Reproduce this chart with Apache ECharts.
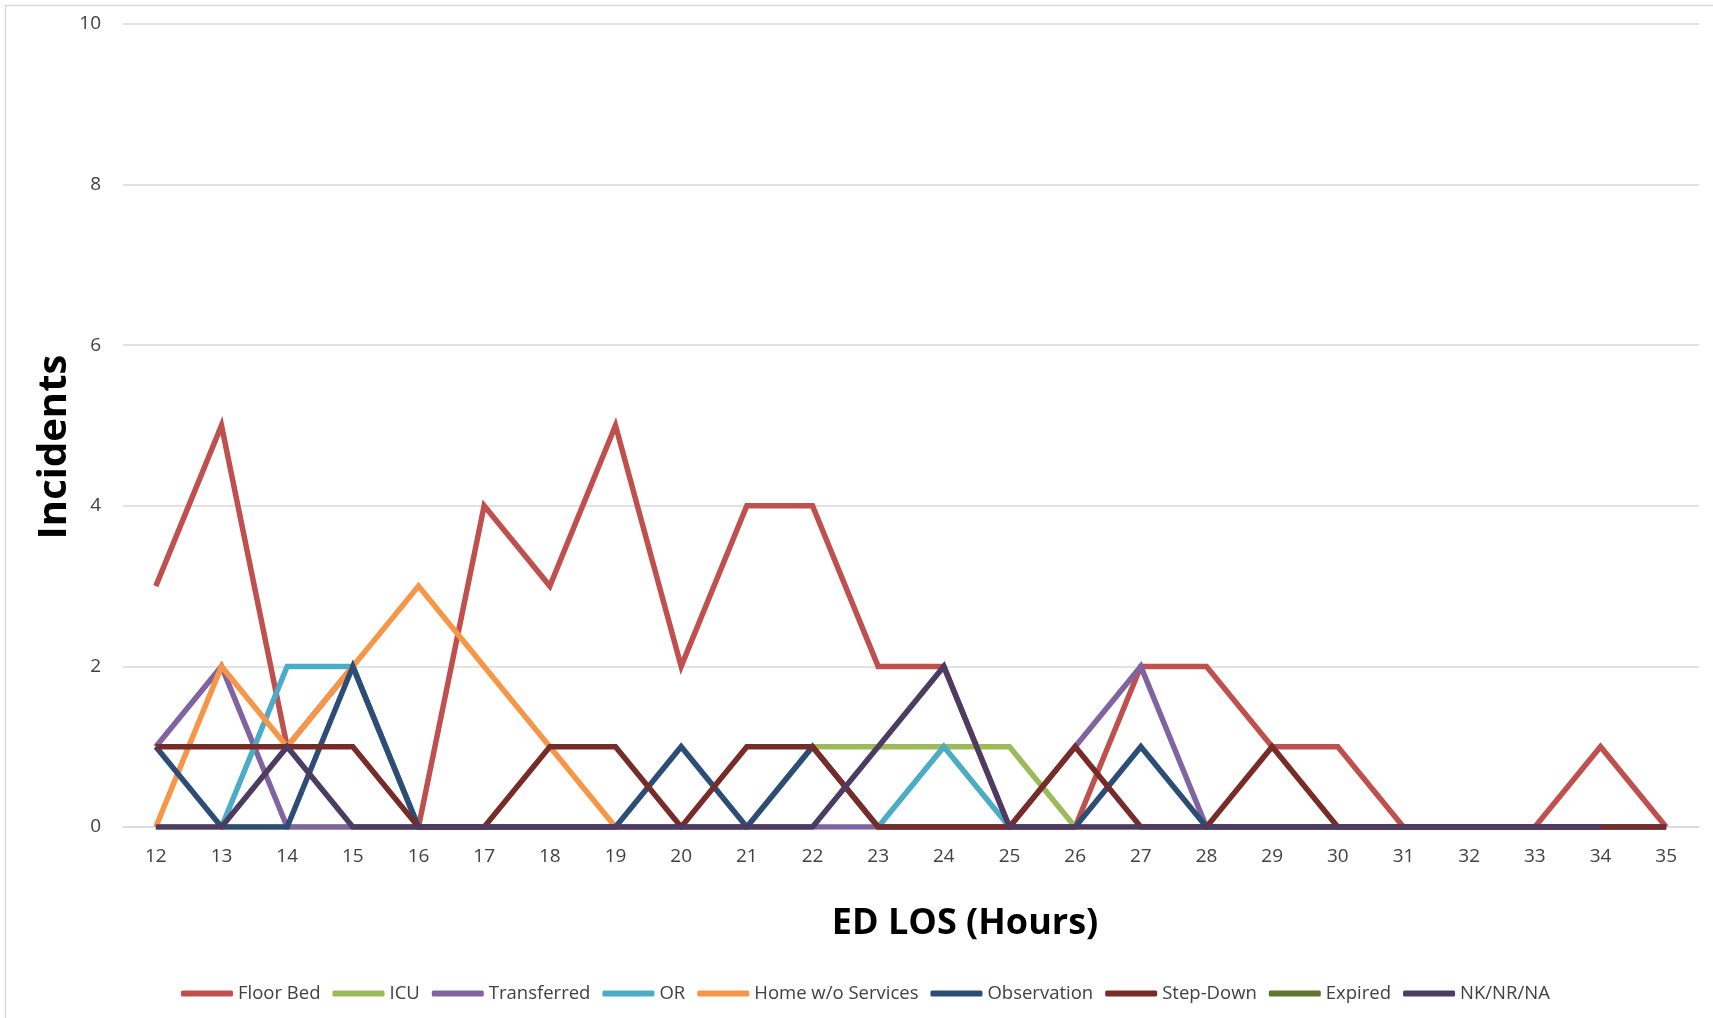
<!DOCTYPE html>
<html>
<head>
<meta charset="utf-8">
<title>Incidents by ED LOS</title>
<script src="https://cdn.jsdelivr.net/npm/echarts@6/dist/echarts.min.js"></script>
<style>
  html, body { margin: 0; padding: 0; background: #fff; }
  #chart { width: 1713px; height: 1018px; }
</style>
</head>
<body>
<div id="chart"></div>
<script>
// ED length of stay, hours
var hours = ['12','13','14','15','16','17','18','19','20','21','22','23','24','25','26','27','28','29','30','31','32','33','34','35'];

// blank cells (null) leave a gap, like the source sheet
var floorBed    = [3, 5, 1, 2, 0, 4, 3, 5, 2, 4, 4, 2, 2, 0, 0, 2, 2, 1, 1, 0, 0, 0, 1, 0];
var icu         = [0, 0, 0, 0, 0, 0, 0, 0, 0, 0, 1, 1, 1, 1, 0, 0, 0, 0, 0, 0, 0, 0, 0, 0];
var transferred = [1, 2, 0, 0, 0, 0, 0, 0, 0, 0, 0, 0, 0, 0, 1, 2, 0, 0, 0, 0, 0, 0, 0, 0];
var orCases     = [null, 0, 2, 2, 0, null, null, null, null, null, null, 0, 1, 0, null, null, null, null, null, null, null, null, null, null];
var homeNoSvc   = [0, 2, 1, 2, 3, 2, 1, 0, null, null, null, null, null, null, null, null, null, null, null, null, null, null, null, null];
var observation = [1, 0, 0, 2, 0, 0, 0, 0, 1, 0, 1, 0, 0, 0, 0, 1, 0, 0, 0, 0, 0, 0, 0, 0];
var stepDown    = [1, 1, 1, 1, 0, 0, 1, 1, 0, 1, 1, 0, 0, 0, 1, 0, 0, 1, 0, 0, 0, 0, 0, 0];
var expired     = []; // no incidents recorded, only appears in the legend
var nkNrNa      = [0, 0, 1, 0, 0, 0, 0, 0, 0, 0, 0, 1, 2, 0, 0, 0, 0, 0, 0, 0, 0, 0, 0, null];

var yTicks = { min: 0, max: 10, interval: 2 };

var seriesDefs = [
  { name: 'Floor Bed', data: floorBed, color: '#C0504D' },
  { name: 'ICU', data: icu, color: '#9BBB59' },
  { name: 'Transferred', data: transferred, color: '#8064A2' },
  { name: 'OR', data: orCases, color: '#4BACC6' },
  { name: 'Home w/o Services', data: homeNoSvc, color: '#F79646' },
  { name: 'Observation', data: observation, color: '#2C4D75' },
  { name: 'Step-Down', data: stepDown, color: '#772C2A' },
  { name: 'Expired', data: expired, color: '#5F7530' },
  { name: 'NK/NR/NA', data: nkNrNa, color: '#4D3B62' }
];

var chart = echarts.init(document.getElementById('chart'));

chart.setOption({
  animation: false,
  textStyle: { fontFamily: 'Open Sans' },
  color: seriesDefs.map(function (s) { return s.color; }),
  graphic: [
    {
      type: 'rect',
      shape: { x: 5.5, y: 5.5, width: 1720, height: 1030 },
      style: { fill: 'none', stroke: '#d9d9d9', lineWidth: 1.5 },
      silent: true
    },
    {
      // y axis title
      type: 'text',
      x: 55,
      y: 447,
      rotation: Math.PI / 2,
      style: {
        text: 'Incidents',
        font: 'bold 40px "Open Sans"',
        fill: '#000',
        align: 'center',
        verticalAlign: 'middle'
      }
    },
    {
      // x axis title
      type: 'text',
      x: 965,
      y: 924,
      style: {
        text: 'ED LOS (Hours)',
        font: 'bold 36px "Open Sans"',
        fill: '#000',
        align: 'center',
        verticalAlign: 'middle'
      }
    }
  ],
  grid: {
    left: 123,
    right: 14,
    top: 24,
    bottom: 191
  },
  legend: {
    top: 979,
    left: 176,
    icon: 'roundRect',
    itemWidth: 52,
    itemHeight: 6,
    itemGap: 12,
    textStyle: { fontSize: 18.5, color: '#404040' },
    data: seriesDefs.map(function (s) { return s.name; })
  },
  xAxis: {
    type: 'category',
    data: hours,
    boundaryGap: true,
    axisLine: { lineStyle: { color: '#d9d9d9', width: 1.5 } },
    axisTick: { show: false },
    axisLabel: { fontSize: 19, color: '#404040', margin: 20 }
  },
  yAxis: {
    type: 'value',
    min: yTicks.min,
    max: yTicks.max,
    interval: yTicks.interval,
    axisLine: { show: false },
    axisTick: { show: false },
    axisLabel: { fontSize: 19, color: '#404040', margin: 22 },
    splitLine: { lineStyle: { color: '#d9d9d9', width: 1.5 } }
  },
  series: seriesDefs.map(function (s) {
    return {
      name: s.name,
      type: 'line',
      data: s.data,
      showSymbol: false,
      symbol: 'none',
      connectNulls: false,
      lineStyle: { color: s.color, width: 5.5, join: 'miter' },
      itemStyle: { color: s.color }
    };
  })
});
</script>
</body>
</html>
